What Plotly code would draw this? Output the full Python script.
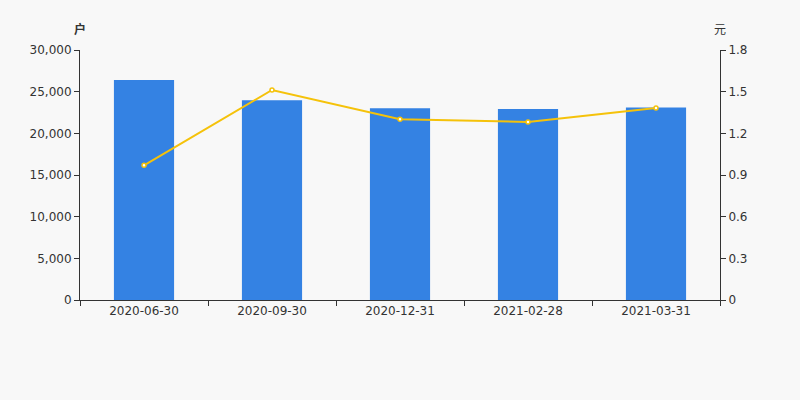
import plotly.graph_objects as go

categories = ["2020-06-30", "2020-09-30", "2020-12-31", "2021-02-28", "2021-03-31"]
holders = [26400, 23960, 23000, 22920, 23100]
avg_value = [0.97, 1.512, 1.301, 1.282, 1.382]

left_ticks = [0, 5000, 10000, 15000, 20000, 25000, 30000]
right_ticks = [0, 0.3, 0.6, 0.9, 1.2, 1.5, 1.8]
right_labels = ["0", "0.3", "0.6", "0.9", "1.2", "1.5", "1.8"]

axis_color = "#333333"
font = dict(family="DejaVu Sans", size=12, color="#333333")

fig = go.Figure()
fig.add_trace(go.Bar(
    x=categories, y=holders, marker=dict(color="#3482e3", line=dict(width=0)),
    width=0.47, yaxis="y", showlegend=False, hoverinfo="skip"))
fig.add_trace(go.Scatter(
    x=categories, y=avg_value, yaxis="y2", mode="lines+markers",
    line=dict(color="#f5c20a", width=2),
    marker=dict(color="white", size=4, line=dict(color="#f5c20a", width=1.5)),
    showlegend=False, hoverinfo="skip"))

fig.update_layout(
    width=800, height=400,
    margin=dict(l=80, r=80, t=50, b=100),
    paper_bgcolor="#f8f8f8", plot_bgcolor="#f8f8f8",
    font=font,
    xaxis=dict(type="category", showline=True, linecolor=axis_color, linewidth=1,
               ticks="outside", tickson="boundaries", ticklen=5, tickcolor=axis_color,
               showgrid=False, zeroline=False, tickfont=font),
    yaxis=dict(range=[0, 30000], tickvals=left_ticks, tickformat=",d",
               showline=True, linecolor=axis_color, linewidth=1, ticks="outside",
               ticklen=5, tickcolor=axis_color, showgrid=False, zeroline=False,
               tickfont=font),
    yaxis2=dict(range=[0, 1.8], tickvals=right_ticks, ticktext=right_labels,
                overlaying="y", side="right",
                showline=True, linecolor=axis_color, linewidth=1, ticks="outside",
                ticklen=5, tickcolor=axis_color, showgrid=False, zeroline=False,
                tickfont=font),
    annotations=[
        dict(text="<b>户</b>", xref="paper", yref="paper", x=0, y=1, yshift=22,
             showarrow=False, xanchor="center", yanchor="middle",
             font=dict(family="Noto Sans CJK SC", size=12, color="#333333")),
        dict(text="元", xref="paper", yref="paper", x=1, y=1, yshift=22,
             showarrow=False, xanchor="center", yanchor="middle",
             font=dict(family="Noto Sans CJK SC", size=12, color="#333333")),
    ],
)

fig.write_html("out.html", config={"displayModeBar": False},
               post_script="document.body.style.margin='0';")
